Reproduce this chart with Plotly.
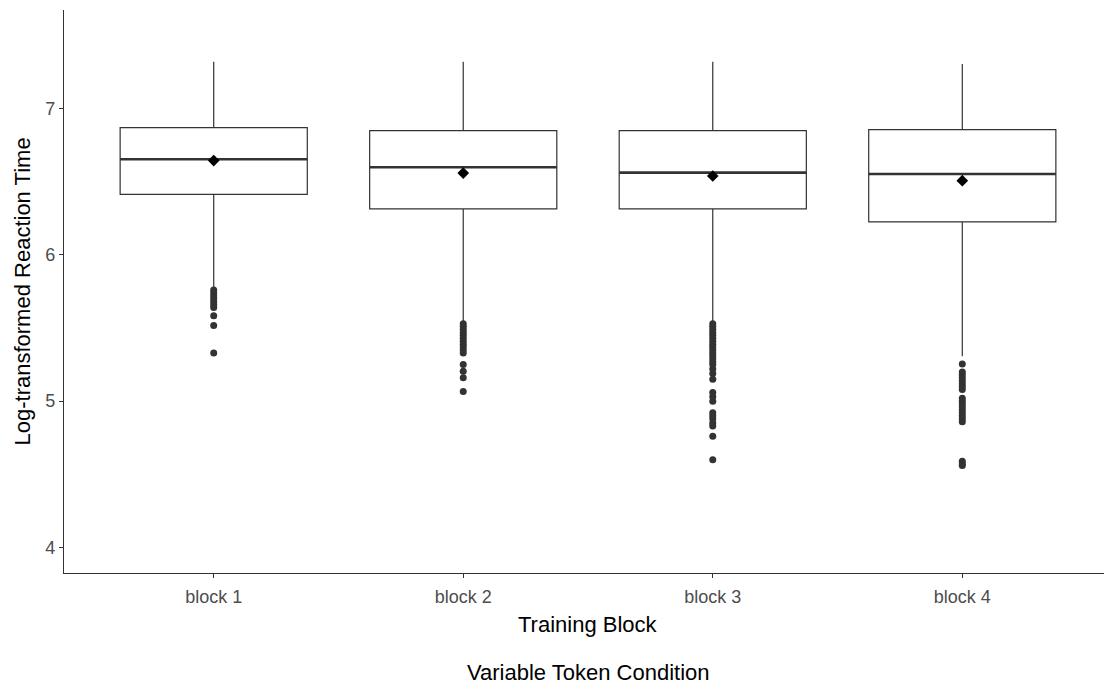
import plotly.graph_objects as go

categories = ["block 1", "block 2", "block 3", "block 4"]
x_pos = [1, 2, 3, 4]
q1 = [6.414, 6.315, 6.315, 6.226]
median = [6.654, 6.600, 6.563, 6.554]
q3 = [6.870, 6.850, 6.850, 6.857]
lower_whisker = [5.763, 5.540, 5.540, 5.307]
upper_whisker = [7.321, 7.321, 7.321, 7.305]
means = [6.645, 6.560, 6.540, 6.508]

outliers_b1 = [5.76, 5.74, 5.72, 5.70, 5.68, 5.66, 5.64, 5.585, 5.517, 5.33]
outliers_b2 = [5.53, 5.51, 5.49, 5.47, 5.45, 5.43, 5.41, 5.39, 5.37, 5.35, 5.33,
               5.25, 5.205, 5.16, 5.066]
outliers_b3 = [5.53, 5.51, 5.49, 5.47, 5.45, 5.43, 5.41, 5.39, 5.37, 5.35, 5.33,
               5.31, 5.29, 5.27, 5.25, 5.22, 5.19, 5.15, 5.06, 5.03, 5.00,
               4.92, 4.90, 4.88, 4.85, 4.83, 4.76, 4.60]
outliers_b4 = [5.255, 5.20, 5.18, 5.16, 5.14, 5.12, 5.10, 5.08, 5.02, 5.00, 4.98,
               4.96, 4.94, 4.92, 4.90, 4.88, 4.86, 4.59, 4.57, 4.56]
outliers = [outliers_b1, outliers_b2, outliers_b3, outliers_b4]

BOX_WIDTH = 0.75
LINE = "#333333"
FONT = "Liberation Sans, Arial, sans-serif"

fig = go.Figure()
for i in range(4):
    fig.add_trace(go.Box(
        x=[x_pos[i]], q1=[q1[i]], median=[median[i]], q3=[q3[i]],
        lowerfence=[lower_whisker[i]], upperfence=[upper_whisker[i]],
        width=BOX_WIDTH, whiskerwidth=0, fillcolor="white",
        line=dict(color=LINE, width=1.2), boxpoints=False,
        showlegend=False, hoverinfo="skip",
    ))

# thicker median lines (ggplot fatten)
mx, my = [], []
for i in range(4):
    mx += [x_pos[i] - BOX_WIDTH / 2, x_pos[i] + BOX_WIDTH / 2, None]
    my += [median[i], median[i], None]
fig.add_trace(go.Scatter(x=mx, y=my, mode="lines",
                         line=dict(color=LINE, width=2.6), showlegend=False,
                         hoverinfo="skip"))

# outliers
ox, oy = [], []
for i in range(4):
    ox += [x_pos[i]] * len(outliers[i])
    oy += outliers[i]
fig.add_trace(go.Scatter(x=ox, y=oy, mode="markers",
                         marker=dict(color=LINE, size=7, line=dict(width=0)),
                         showlegend=False))

# means
fig.add_trace(go.Scatter(x=x_pos, y=means, mode="markers",
                         marker=dict(symbol="diamond", color="black", size=9,
                                     line=dict(width=0)),
                         showlegend=False))

fig.update_layout(
    width=1104, height=677,
    margin=dict(l=56, r=0, t=2, b=112),
    plot_bgcolor="white", paper_bgcolor="white",
    font=dict(family=FONT, color="black"),
    xaxis=dict(
        range=[0.4, 4.6], tickvals=x_pos, ticktext=categories,
        showline=True, linecolor=LINE, linewidth=1.3,
        ticks="outside", ticklen=4, tickcolor=LINE, tickwidth=1,
        ticklabelstandoff=3,
        tickfont=dict(size=18, color="#4D4D4D"),
        showgrid=False, zeroline=False,
    ),
    yaxis=dict(
        range=[3.825, 7.675], tickvals=[4, 5, 6, 7],
        showline=True, linecolor=LINE, linewidth=1.3,
        ticks="outside", ticklen=4, tickcolor=LINE, tickwidth=1,
        tickfont=dict(size=18, color="#4D4D4D"),
        showgrid=False, zeroline=False,
    ),
    annotations=[
        dict(text="Training Block", xref="paper", yref="paper",
             x=0.5, y=0, yshift=-51, xanchor="center", yanchor="middle",
             showarrow=False, font=dict(size=22, color="black")),
        dict(text="Variable Token Condition", xref="paper", yref="paper",
             x=0.5, y=0, yshift=-99, xanchor="center", yanchor="middle",
             showarrow=False, font=dict(size=22, color="black")),
        dict(text="Log-transformed Reaction Time", xref="paper", yref="paper",
             x=0, xshift=-42, y=0.5, xanchor="center", yanchor="middle",
             textangle=-90, showarrow=False,
             font=dict(size=22, color="black")),
    ],
)

fig.write_html("out.html")
